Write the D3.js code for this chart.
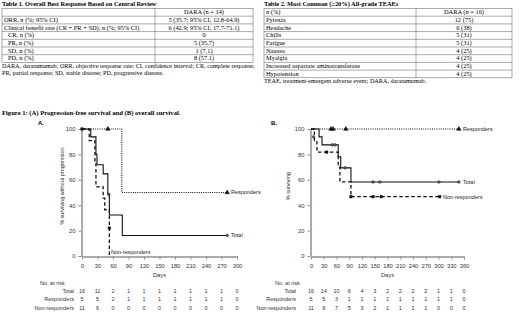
<!DOCTYPE html>
<html>
<head>
<meta charset="utf-8">
<script src="https://cdn.jsdelivr.net/npm/d3@7"></script>
<style>
  body { margin: 0; background: #fff; }
  .serif { font-family: "Liberation Serif", "Times New Roman", serif; }
  .sans { font-family: "Liberation Sans", Arial, sans-serif; }
</style>
</head>
<body>
<svg id="chart"></svg>
<script>
// ---- table data ----
const t1Title = "Table 1. Overall Best Response Based on Central Review";
const t1Labels = ["", "ORR, n (%; 95% CI)", "Clinical benefit rate (CR + PR + SD), n (%; 95% CI)",
  "CR, n (%)", "PR, n (%)", "SD, n (%)", "PD, n (%)"];
const t1Values = ["DARA (n = 14)", "5 (35.7; 95% CI, 12.8-64.9)", "6 (42.9; 95% CI, 17.7-71.1)",
  "0", "5 (35.7)", "1 (7.1)", "8 (57.1)"];
const t1Indent = [0, 0, 0, 1, 1, 1, 1];
const t1Notes = ["DARA, daratumumab; ORR, objective response rate; CI, confidence interval; CR, complete response;",
  "PR, partial response; SD, stable disease; PD, progressive disease."];

const t2Title = "Table 2. Most Common (\u226520%) All-grade TEAEs";
const t2Labels = ["n (%)", "Pyrexia", "Headache", "Chills", "Fatigue", "Nausea", "Myalgia",
  "Increased aspartate aminotransferase", "Hypotension"];
const t2Values = ["DARA (n = 16)", "12 (75)", "6 (38)", "5 (31)", "5 (31)", "4 (25)", "4 (25)", "4 (25)", "4 (25)"];
const t2Notes = ["TEAE, treatment-emergent adverse event; DARA, daratumumab."];

const figTitle = "Figure 1: (A) Progression-free survival and (B) overall survival.";

// ---- survival data: [day, % surviving] step points ----
const pfsTotal = [[0, 100], [17, 93.8], [27, 80], [29, 71.9], [41, 64.7], [50, 48.5], [53, 32.3], [78, 16.2], [281, 16.2]];
const pfsResp = [[0, 100], [77, 50], [281, 50]];
const pfsNon = [[0, 100], [14, 90.9], [25, 72.7], [27, 54.5], [41, 45.5], [44, 36.4], [53, 0]];
const pfsTotalCens = [[52, 48.5], [281, 16.2]];
const pfsRespCens = [[50, 100], [281, 50]];
const pfsNonCens = [[0, 100], [53, 22]];

const osTotal = [[0, 100], [19, 93.8], [26, 87.5], [64, 78.1], [70, 69.4], [94, 58.3], [348, 58.3]];
const osResp = [[0, 100], [348, 100]];
const osNon = [[0, 100], [8, 90.9], [14, 81.8], [64, 70], [68, 58.3], [94, 46.7], [303, 46.7]];
const osTotalCens = [[6, 93.8], [50, 87.5], [56, 87.5], [80, 69.4], [146, 58.3], [162, 58.3], [301, 58.3], [348, 58.3]];
const osRespCens = [[47, 100], [52, 100], [82, 100], [348, 100]];
const osNonCens = [[37, 81.8], [94, 46.7], [146, 46.7], [165, 46.7], [303, 46.7]];

const riskLabels = ["Total", "Responders", "Non-responders"];
const pfsRisk = [
  [16, 11, 2, 1, 1, 1, 1, 1, 1, 1, 0],
  [5, 5, 2, 1, 1, 1, 1, 1, 1, 1, 0],
  [11, 6, 0, 0, 0, 0, 0, 0, 0, 0, 0]
];
const osRisk = [
  [16, 14, 10, 6, 4, 3, 2, 2, 2, 2, 1, 1, 0],
  [5, 5, 3, 1, 1, 1, 1, 1, 1, 1, 1, 1, 0],
  [11, 9, 7, 5, 3, 2, 1, 1, 1, 1, 0, 0, 0]
];

const svg = d3.select("#chart").attr("width", 520).attr("height", 312);

// ---- tables ----
function drawTable(x0, x1, split, title, labels, values, indent, notes) {
  const g = svg.append("g").attr("class", "serif");
  const top = 8.5, rowH = 7.7, fs = 6.4;
  g.append("text").attr("x", x0).attr("y", 6).attr("font-size", 6.4)
    .attr("font-weight", "bold").text(title);
  const rows = labels.length;
  g.append("rect").attr("x", x0).attr("y", top).attr("width", x1 - x0).attr("height", rows * rowH)
    .attr("fill", "none").attr("stroke", "#555").attr("stroke-width", 0.5);
  g.append("line").attr("x1", split).attr("x2", split).attr("y1", top).attr("y2", top + rows * rowH)
    .attr("stroke", "#555").attr("stroke-width", 0.5);
  labels.forEach((lab, i) => {
    if (i > 0) g.append("line").attr("x1", x0).attr("x2", x1)
      .attr("y1", top + i * rowH).attr("y2", top + i * rowH)
      .attr("stroke", "#555").attr("stroke-width", 0.5);
    const yb = top + i * rowH + 5.7;
    g.append("text").attr("x", x0 + 2 + (indent && indent[i] ? 4 : 0)).attr("y", yb)
      .attr("font-size", fs).text(lab);
    g.append("text").attr("x", (split + x1) / 2).attr("y", yb).attr("text-anchor", "middle")
      .attr("font-size", fs).text(values[i]);
  });
  notes.forEach((n, i) => {
    g.append("text").attr("x", x0).attr("y", top + rows * rowH + 5.5 + i * 7.5)
      .attr("font-size", 6.2).text(n);
  });
}
drawTable(2, 253, 155, t1Title, t1Labels, t1Values, t1Indent, t1Notes);
drawTable(264, 512, 416, t2Title, t2Labels, t2Values, null, t2Notes);

svg.append("text").attr("class", "serif").attr("x", 2).attr("y", 115)
  .attr("font-size", 6.6).attr("font-weight", "bold").text(figTitle);

// ---- Kaplan-Meier plots ----
function drawKM(o) {
  const g = svg.append("g").attr("class", "sans");
  const x = d3.scaleLinear().domain([0, o.maxDay]).range([o.x0, o.x1]);
  const y = d3.scaleLinear().domain([0, 100]).range([256, 129]);
  const line = d3.line().x(d => x(d[0])).y(d => y(d[1])).curve(d3.curveStepAfter);

  g.append("text").attr("x", o.letterX).attr("y", 125).attr("font-size", 6)
    .attr("font-weight", "bold").text(o.letter);

  const xa = g.append("g").attr("transform", "translate(0,256.5)")
    .call(d3.axisBottom(x).tickValues(d3.range(0, o.maxDay + 1, 30)).tickSize(3).tickSizeOuter(0));
  const ya = g.append("g").attr("transform", `translate(${o.x0 - 0.5},0)`)
    .call(d3.axisLeft(y).tickValues([0, 20, 40, 60, 80, 100]).tickSize(3).tickSizeOuter(0));
  [xa, ya].forEach(a => {
    a.select(".domain").attr("stroke", "#8f8f8f").attr("stroke-width", 1.5);
    a.selectAll(".tick line").attr("stroke", "#8f8f8f").attr("stroke-width", 1);
    a.selectAll(".tick text").attr("font-size", 5.8).attr("fill", "#333")
      .attr("font-family", "Liberation Sans, Arial, sans-serif");
  });
  xa.selectAll(".tick text").attr("dy", "0.9em");

  g.append("text").attr("x", (o.x0 + o.x1) / 2).attr("y", 277).attr("text-anchor", "middle")
    .attr("font-size", 5.8).attr("fill", "#333").text("Days");
  g.append("text").attr("transform", `translate(${o.yLabelX},${y(55)}) rotate(-90)`)
    .attr("text-anchor", "middle").attr("font-size", 5.5).attr("fill", "#333").text(o.yLabel);

  const styles = [
    { data: o.resp, cens: o.respCens, dash: "1,1.2", w: 1.1, sym: d3.symbolTriangle, size: 8, fill: "#111" },
    { data: o.non, cens: o.nonCens, dash: "3.5,2.5", w: 1.3, sym: d3.symbolSquare, size: 6, fill: "#111" },
    { data: o.total, cens: o.totalCens, dash: null, w: 1.1, sym: d3.symbolCircle, size: 5, fill: "#777" }
  ];
  styles.forEach(s => {
    g.append("path").datum(s.data).attr("d", line).attr("fill", "none")
      .attr("stroke", "#111").attr("stroke-width", s.w)
      .attr("stroke-dasharray", s.dash);
    g.selectAll(null).data(s.cens).enter().append("path")
      .attr("d", d3.symbol().type(s.sym).size(s.size))
      .attr("transform", d => `translate(${x(d[0])},${y(d[1])})`)
      .attr("fill", s.fill).attr("stroke", "#111").attr("stroke-width", 0.6);
  });

  o.labels.forEach(l => {
    g.append("text").attr("x", l.x).attr("y", l.y).attr("font-size", 5.5)
      .attr("fill", "#222").text(l.text);
  });

  // number at risk
  g.append("text").attr("x", o.riskTitleX).attr("y", 285).attr("font-size", 5.5)
    .attr("fill", "#333").text("No. at risk");
  o.risk.forEach((row, r) => {
    const yb = 293 + r * 8.3;
    g.append("text").attr("x", o.riskLabelX).attr("y", yb).attr("text-anchor", "end")
      .attr("font-size", 5.5).attr("fill", "#333").text(riskLabels[r]);
    row.forEach((v, i) => {
      g.append("text").attr("x", x(i * 30)).attr("y", yb).attr("text-anchor", "middle")
        .attr("font-size", 5.5).attr("fill", "#333").text(v);
    });
  });
}

drawKM({
  letter: "A.", letterX: 38, x0: 82, x1: 237, maxDay: 300,
  yLabel: "% surviving without progression", yLabelX: 64,
  total: pfsTotal, resp: pfsResp, non: pfsNon,
  totalCens: pfsTotalCens, respCens: pfsRespCens, nonCens: pfsNonCens,
  labels: [{ text: "Responders", x: 231, y: 194 }, { text: "Total", x: 231, y: 237 },
           { text: "Non-responders", x: 111, y: 254 }],
  risk: pfsRisk, riskTitleX: 40, riskLabelX: 74
});
drawKM({
  letter: "B.", letterX: 271, x0: 311, x1: 464, maxDay: 360,
  yLabel: "% surviving", yLabelX: 290,
  total: osTotal, resp: osResp, non: osNon,
  totalCens: osTotalCens, respCens: osRespCens, nonCens: osNonCens,
  labels: [{ text: "Responders", x: 463, y: 131 }, { text: "Total", x: 463, y: 184 },
           { text: "Non-responders", x: 443, y: 199 }],
  risk: osRisk, riskTitleX: 275, riskLabelX: 296
});
</script>
</body>
</html>
